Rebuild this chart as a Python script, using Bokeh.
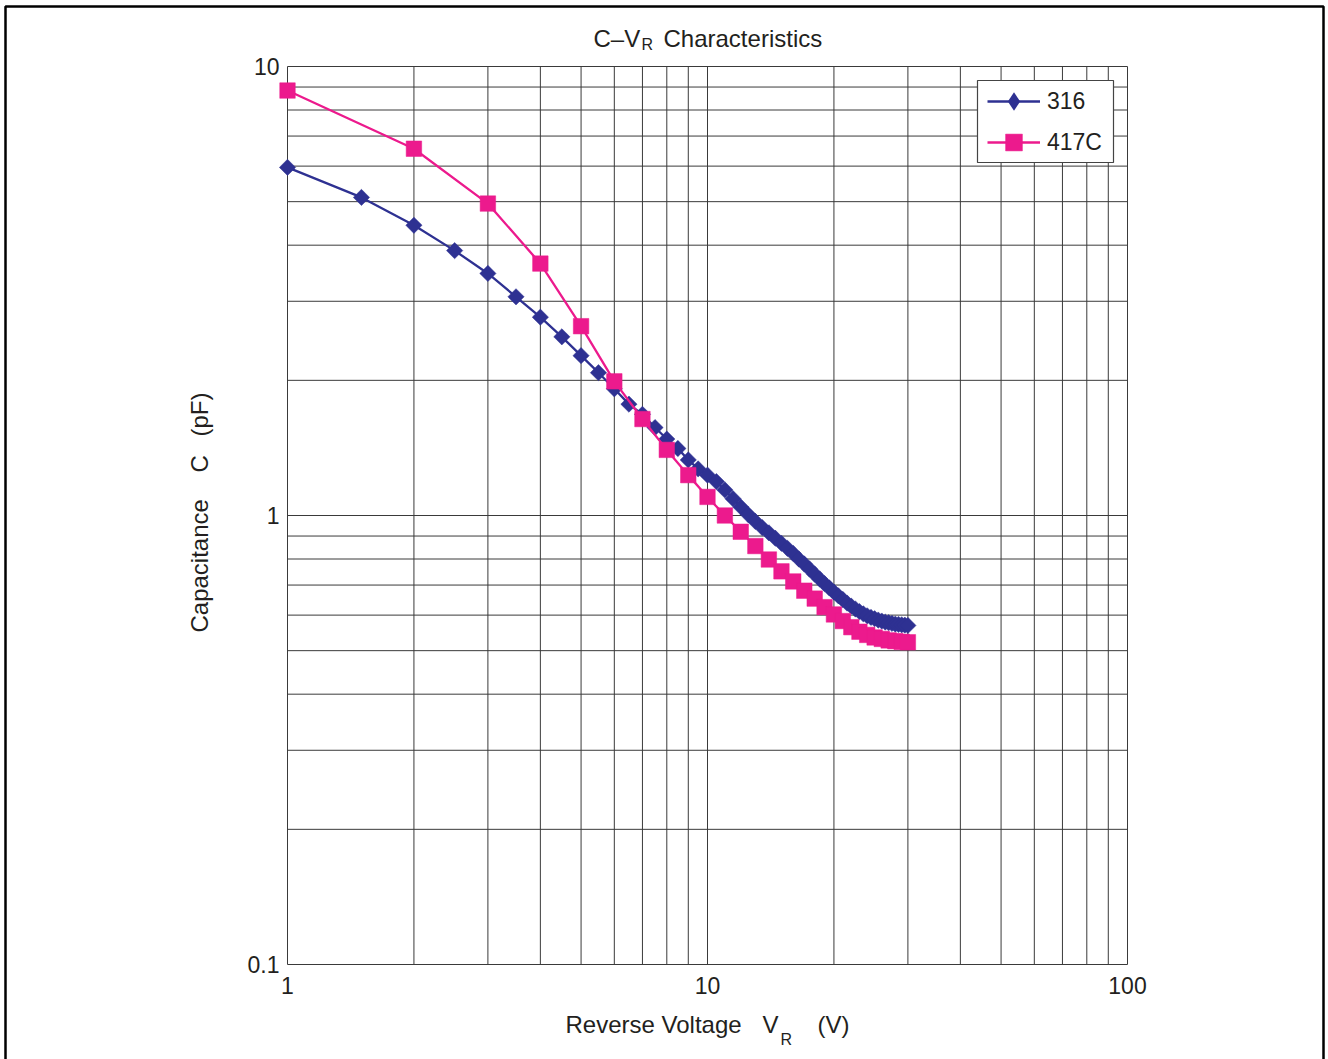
import math
from bokeh.plotting import figure
from bokeh.models import (FixedTicker, Label, Legend, LegendItem, BoxAnnotation,
                          PolyAnnotation, NumeralTickFormatter, LogAxis,
                          ColumnDataSource)
from bokeh.embed import file_html
from bokeh.resources import INLINE

# ---------------- data ----------------
v_316 = [1, 1.5, 2, 2.5, 3, 3.5, 4, 4.5, 5, 5.5, 6, 6.5, 7, 7.5, 8, 8.5, 9, 9.5,
         10, 10.5, 11, 11.5, 12, 12.5, 13, 13.5, 14, 14.5, 15, 15.5, 16, 16.5,
         17, 17.5, 18, 18.5, 19, 19.5, 20, 20.5, 21, 21.5, 22, 22.5, 23, 23.5,
         24, 24.5, 25, 25.5, 26, 26.5, 27, 27.5, 28, 28.5, 29, 29.5, 30]
c_316 = [5.96, 5.11, 4.43, 3.89, 3.46, 3.07, 2.765, 2.50, 2.27, 2.08, 1.915,
         1.77, 1.68, 1.57, 1.48, 1.41, 1.33, 1.27,
         1.23, 1.19, 1.14, 1.09, 1.045, 1.005, 0.97, 0.94, 0.915, 0.89, 0.867,
         0.845, 0.823, 0.80, 0.78, 0.76, 0.74, 0.722, 0.705, 0.69, 0.675,
         0.662, 0.65, 0.638, 0.628, 0.619, 0.611, 0.604, 0.598, 0.593, 0.589,
         0.585, 0.582, 0.579, 0.577, 0.575, 0.573, 0.572, 0.571, 0.570, 0.569]

v_417c = [1, 2, 3, 4, 5, 6, 7, 8, 9, 10, 11, 12, 13, 14, 15, 16, 17, 18, 19,
          20, 21, 22, 23, 24, 25, 26, 27, 28, 29, 30]
c_417c = [8.84, 6.56, 4.95, 3.64, 2.64, 1.99, 1.64, 1.40, 1.23, 1.10, 1.00,
          0.92, 0.855, 0.798, 0.751, 0.713, 0.68, 0.653, 0.625, 0.602, 0.582,
          0.564, 0.551, 0.542, 0.535, 0.531, 0.527, 0.525, 0.523, 0.522]

x_major = [1, 10, 100]
x_minor = [2, 3, 4, 5, 6, 7, 8, 9, 20, 30, 40, 50, 60, 70, 80, 90]
y_major = [0.1, 1, 10]
y_minor = [0.2, 0.3, 0.4, 0.5, 0.6, 0.7, 0.8, 0.9, 2, 3, 4, 5, 6, 7, 8, 9]

series_names = ["316", "417C"]

# ---------------- layout (picture pixels) ----------------
W, H = 1328, 1059        # canvas size
PL, PR, PT, PB = 287, 1127, 66, 964   # plot-area edges in the picture

FONT = "Liberation Sans"
TXT = "#231f20"
BLUE = "#2e3192"
PINK = "#ec1a8d"
GRID = "#3a3a3a"

# the frame fills the whole canvas; the ranges are widened so that the
# decades 1..100 / 0.1..10 land on the plot-area edges
dx = (PR - PL) / (math.log10(x_major[-1]) - math.log10(x_major[0]))
dy = (PB - PT) / (math.log10(y_major[-1]) - math.log10(y_major[0]))
xr = (10 ** (math.log10(x_major[0]) - PL / dx),
      10 ** (math.log10(x_major[-1]) + (W - PR) / dx))
yr = (10 ** (math.log10(y_major[0]) - (H - PB) / dy),
      10 ** (math.log10(y_major[-1]) + PT / dy))

p = figure(width=W, height=H, x_axis_type="log", y_axis_type="log",
           x_range=xr, y_range=yr, x_axis_location=None, y_axis_location=None,
           output_backend="svg", toolbar_location=None,
           min_border=0, title=None)
p.outline_line_color = None
p.background_fill_color = "white"
p.border_fill_color = "white"
p.xgrid.visible = False
p.ygrid.visible = False

xaxis = LogAxis(fixed_location=y_major[0], bounds=(x_major[0], x_major[-1]))
yaxis = LogAxis(fixed_location=x_major[0], bounds=(y_major[0], y_major[-1]))
p.add_layout(xaxis, "below")
p.add_layout(yaxis, "left")
for ax, maj, mnr in ((xaxis, x_major, x_minor), (yaxis, y_major, y_minor)):
    ax.ticker = FixedTicker(ticks=maj, minor_ticks=mnr)
    ax.formatter = NumeralTickFormatter(format="0.[0]")
    ax.axis_line_color = None
    ax.major_tick_line_color = None
    ax.minor_tick_line_color = None
    ax.major_tick_in = 0
    ax.major_tick_out = 0
    ax.minor_tick_in = 0
    ax.minor_tick_out = 0
    ax.major_label_text_font = FONT
    ax.major_label_text_font_size = "23px"
    ax.major_label_text_color = TXT
xaxis.major_label_standoff = 12
yaxis.major_label_standoff = 8
xaxis.major_label_overrides = {1: "1", 10: "10", 100: "100"}
yaxis.major_label_overrides = {0.1: "0.1", 1: "1", 10: "10"}

# grid (all decades and sub-decades), drawn through the log scales
gx = x_major + x_minor
gy = y_major + y_minor
p.segment(x0=gx, x1=gx, y0=[y_major[0]] * len(gx), y1=[y_major[-1]] * len(gx),
          line_color=GRID, line_width=1)
p.segment(x0=[x_major[0]] * len(gy), x1=[x_major[-1]] * len(gy), y0=gy, y1=gy,
          line_color=GRID, line_width=1)

# ---------------- series ----------------
src1 = ColumnDataSource(dict(v=v_316, c=c_316))
src2 = ColumnDataSource(dict(v=v_417c, c=c_417c))
l1 = p.line("v", "c", source=src1, line_color=BLUE, line_width=2.3)
m1 = p.scatter("v", "c", source=src1, marker="square", angle=math.pi / 4,
               size=11.5, fill_color=BLUE, line_color=BLUE, line_width=0.5)
l2 = p.line("v", "c", source=src2, line_color=PINK, line_width=2.3)
m2 = p.scatter("v", "c", source=src2, marker="square", size=15.5,
               fill_color=PINK, line_color=PINK, line_width=0.5)
# legend-only diamond glyph: zero size in the plot, the legend sizes it itself
m1_leg = p.scatter("v", "c", source=src1, marker="diamond", size=0,
                   fill_color=BLUE, line_color=None)

# ---------------- legend ----------------
def sx(px):
    return px

def sy(py):
    return H - py

box = BoxAnnotation(left=sx(977), right=sx(1113), bottom=sy(162), top=sy(80),
                    left_units="screen", right_units="screen",
                    bottom_units="screen", top_units="screen",
                    fill_color="white", fill_alpha=1.0,
                    line_color="#444444", line_alpha=1.0, line_width=1.2)
p.add_layout(box)

def make_legend(item, gh, loc):
    return Legend(items=[item], location=loc, orientation="vertical",
                  glyph_width=53, glyph_height=gh, label_height=gh,
                  label_standoff=7, padding=0, margin=0, spacing=0,
                  border_line_color=None, background_fill_alpha=0,
                  label_text_font=FONT, label_text_font_size="23px",
                  label_text_color=TXT)

leg1 = make_legend(LegendItem(label=series_names[0], renderers=[l1, m1_leg]), 46,
                   (sx(987), sy(101 + 23)))
leg2 = make_legend(LegendItem(label=series_names[1], renderers=[l2, m2]), 42,
                   (sx(987), sy(142 + 21)))
p.add_layout(leg1)
p.add_layout(leg2)

# outer border (left, top, right)
p.add_layout(PolyAnnotation(xs=[sx(5), sx(5), sx(1323), sx(1323)],
                            ys=[-10, sy(6), sy(6), -10],
                            xs_units="screen", ys_units="screen",
                            fill_alpha=0, line_color="black", line_alpha=1.0,
                            line_width=2.5))

# ---------------- texts ----------------
def lab(px, py, t, size="24px", angle=0.0):
    return Label(x=sx(px), y=sy(py), x_units="screen", y_units="screen", text=t,
                 text_font=FONT, text_font_size=size, text_color=TXT,
                 text_align="left", text_baseline="alphabetic", angle=angle)

# title  C–V_R Characteristics
p.add_layout(lab(593, 38, "C\u2013V"))
p.add_layout(lab(641, 44, "R", "16px"))
p.add_layout(lab(663, 38, "Characteristics"))

# x axis label  Reverse Voltage  V_R  (V)
p.add_layout(lab(565, 1024, "Reverse Voltage"))
p.add_layout(lab(762, 1024, "V"))
p.add_layout(lab(780, 1039, "R", "16px"))
p.add_layout(lab(817, 1024, "(V)"))

# y axis label  Capacitance  C  (pF)
p.add_layout(lab(199, 632, "Capacitance", angle=math.pi / 2))
p.add_layout(lab(199, 472, "C", angle=math.pi / 2))
p.add_layout(lab(199, 436, "(pF)", angle=math.pi / 2))

open("out.html", "w").write(file_html(p, INLINE))
